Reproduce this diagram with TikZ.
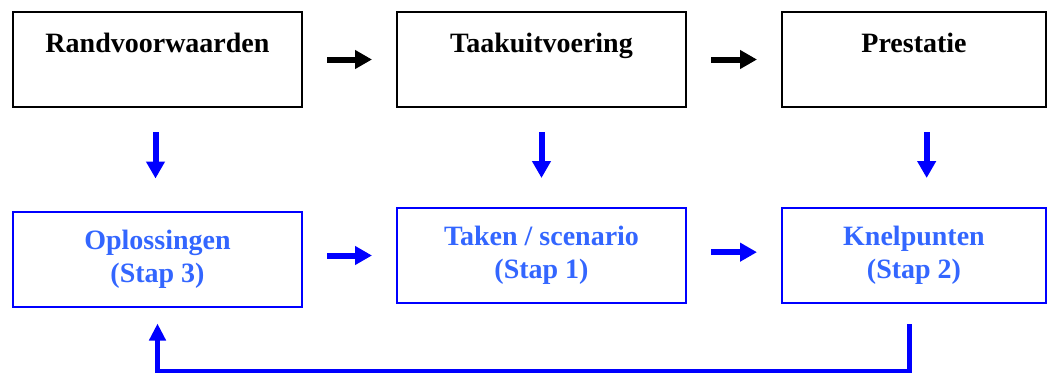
\documentclass[tikz,border=0pt]{standalone}
\usepackage{fontspec}
\setmainfont{Liberation Serif}
\usepackage{xcolor}
\usetikzlibrary{arrows.meta}

\definecolor{stapblue}{RGB}{51,102,255}

\begin{document}
\begin{tikzpicture}[x=0.75pt,y=-0.75pt,
	box/.style={draw, line width=1.5pt, inner xsep=0pt, inner ysep=0pt, minimum width=216.75pt, font=\fontsize{21}{24.75}\selectfont\bfseries},
	topbox/.style={box, text height=30pt, text depth=41.25pt},
	stapbox/.style={box, draw=blue, text=stapblue, align=center, minimum height=71.25pt},
	pijl/.style={line width=4.5pt, -{Triangle[length=12.75pt,width=13.5pt]}},
	blauwpijl/.style={pijl, draw=blue, fill=blue},
	terug/.style={line width=3.75pt, draw=blue, -{Triangle[length=12.75pt,width=12pt]}}]
	\useasboundingbox (0,0) rectangle (1051,372);
	% bovenste rij
	\node [topbox] (rand) at (157.5,59.5) {Randvoorwaarden};
	\node [topbox] (taak) at (541.5,59.5) {Taakuitvoering};
	\node [topbox, minimum width=198pt] (prest) at (914,59.5) {Prestatie};
	% onderste rij
	\node [stapbox] (opl) at (157.5,259) {Oplossingen\\(Stap 3)};
	\node [stapbox] (taken) at (541.5,255.5) {Taken / scenario\\(Stap 1)};
	\node [stapbox, minimum width=198pt] (knel) at (914,255.5) {Knelpunten\\(Stap 2)};
	% pijlen boven
	\draw [pijl, shorten <=18pt, shorten >=18pt] (rand) -- (taak);
	\draw [pijl, shorten <=18pt, shorten >=18pt] (taak) -- (prest);
	% pijlen naar beneden
	\draw [blauwpijl, shorten <=18pt, shorten >=24pt] ([xshift=-1.5pt]rand.south) -- ([xshift=-1.5pt]opl.north);
	\draw [blauwpijl, shorten <=18pt, shorten >=21.75pt] (taak.south) -- (taken.north);
	\draw [blauwpijl, shorten <=18pt, shorten >=21.75pt] ([xshift=9.5pt]prest.south) -- ([xshift=9.5pt]knel.north);
	% pijlen onder
	\draw [blauwpijl, shorten <=18pt, shorten >=18pt] (opl.east |- taken.west) -- (taken.west);
	\draw [blauwpijl, shorten <=18pt, shorten >=18pt] ([yshift=2.5pt]taken.east) -- ([yshift=2.5pt]knel.west);
	% terugkoppeling
	\draw [terug, shorten <=15pt, shorten >=12pt] ([xshift=-3.75pt]knel.south) -- ++(0,67) -| (opl.south);
\end{tikzpicture}
\end{document}
